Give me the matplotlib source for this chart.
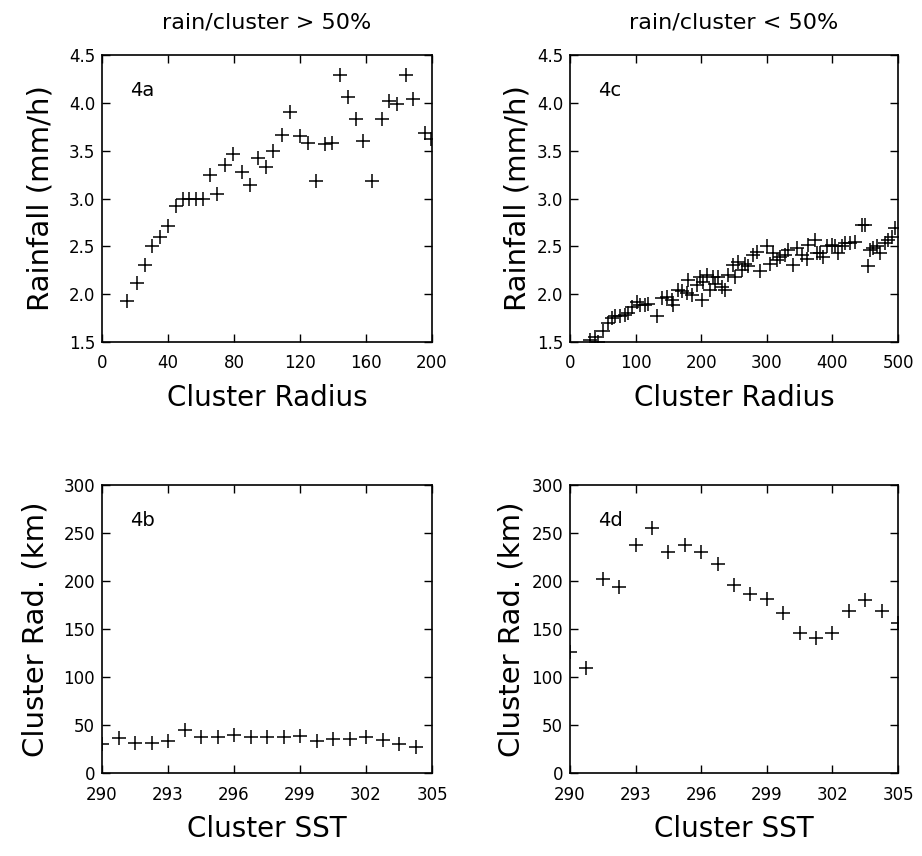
# four panel rainfall / cluster radius / SST scatter plots
import matplotlib
matplotlib.use("Agg")
import matplotlib.pyplot as plt
import matplotlib.ticker as ticker

#================ DATA =========================================================

# ---- 4a : rain/cluster > 50%, rainfall v cluster radius ----------------------
rad_a  = [15, 21, 26, 30, 35, 40, 45, 49, 53, 57, 61, 65.5, 69.5, 74.5, 79.5,
          85, 89.7, 94.3, 99.2, 103.8, 108.9, 113.9, 120, 125, 129.7, 135.2,
          139.2, 144.2, 148.9, 153.7, 158.4, 163.4, 169.5, 174.1, 178.6, 184,
          188.7, 196, 199.5]
rain_a = [1.93, 2.12, 2.30, 2.50, 2.60, 2.71, 2.92, 2.99, 3.00, 2.99, 3.00,
          3.25, 3.05, 3.35, 3.46, 3.28, 3.14, 3.42, 3.33, 3.50, 3.66, 3.90,
          3.65, 3.58, 3.18, 3.57, 3.58, 4.29, 4.06, 3.83, 3.60, 3.18, 3.83,
          4.02, 3.99, 4.29, 4.04, 3.68, 3.62]

# ---- 4c : rain/cluster < 50%, rainfall v cluster radius ----------------------
rad_c  = [30.5, 38.1, 43.2, 50.8, 58.5, 63.5, 68.6, 76.3, 83.9, 89, 94, 101.7,
          106.7, 114.4, 119.4, 132.1, 139.8, 147.4, 155, 157.5, 165.2, 170.3,
          177.9, 180.4, 185.5, 193.1, 198.2, 200.5, 203.3, 208.4, 213.4, 218.5,
          221.1, 226.1, 231.2, 236.3, 241.4, 249, 251.6, 256.6, 261.7, 266.8,
          271.9, 279.5, 284.6, 289.7, 299.8, 304.9, 310, 315, 320.1, 327.8,
          332.9, 340.5, 345.6, 353.2, 360.8, 363.3, 373.5, 376, 381.1, 386.2,
          391.3, 398.9, 404, 409.1, 414.2, 419.2, 426.9, 434.5, 444.6, 449.7,
          454.8, 457.3, 462.4, 467.5, 472.6, 480.2, 485.3, 490.4, 495.5]
rain_c = [1.52, 1.55, 1.50, 1.61, 1.70, 1.75, 1.77, 1.77, 1.78, 1.80, 1.87,
          1.92, 1.89, 1.89, 1.90, 1.77, 1.96, 1.97, 1.94, 1.89, 2.04, 2.03,
          2.01, 2.15, 1.99, 2.10, 2.18, 1.94, 2.13, 2.20, 2.04, 2.18, 2.11,
          2.18, 2.08, 2.04, 2.20, 2.30, 2.18, 2.34, 2.25, 2.32, 2.29, 2.41,
          2.44, 2.24, 2.50, 2.32, 2.43, 2.36, 2.39, 2.41, 2.46, 2.30, 2.48,
          2.41, 2.37, 2.51, 2.57, 2.43, 2.43, 2.39, 2.50, 2.51, 2.50, 2.43,
          2.50, 2.53, 2.53, 2.55, 2.72, 2.72, 2.29, 2.46, 2.48, 2.50, 2.43,
          2.53, 2.57, 2.60, 2.69]

# ---- 4b / 4d : cluster radius v cluster SST ----------------------------------
sst    = [290.0, 290.75, 291.5, 292.25, 293.0, 293.75, 294.5, 295.25, 296.0,
          296.75, 297.5, 298.25, 299.0, 299.75, 300.5, 301.25, 302.0, 302.75,
          303.5, 304.25]
crad_b = [30, 36.8, 30.9, 30.9, 33.3, 44.9, 37.5, 37.5, 39.6, 37.5, 37.5,
          37.5, 38.6, 33.3, 35.1, 35.8, 37.5, 34.4, 29.8, 27.0]
sst_d  = sst + [305.0]
crad_d = [126, 109.8, 201.8, 193.7, 237.5, 255.1, 230.5, 237.5, 229.8, 217.5,
          195.4, 186.0, 181.4, 166.7, 145.6, 140.4, 145.6, 168.4, 180.0, 168.4,
          156]

# ---- text ---------------------------------------------------------------------
titles   = ["rain/cluster > 50%", "rain/cluster < 50%"]
rain_lab = "Rainfall (mm/h)"
rad_lab  = "Cluster Rad. (km)"

#================ PLOTTING =====================================================

plt.rcParams['font.weight'] = 'light'

fig = plt.figure(figsize=(9.22, 8.56), dpi=100)

W, H = 922.0, 856.0

def panel(left, top, right, bottom):
	return fig.add_axes([left/W, 1 - bottom/H, (right-left)/W, (bottom-top)/H])

def style(ax, tag):
	ax.tick_params(direction='in', top=True, right=True, length=6, width=1,
				   labelsize=12)
	ax.tick_params(axis='x', pad=9)
	ax.tick_params(axis='y', pad=5)
	for lab in ax.get_xticklabels() + ax.get_yticklabels():
		lab.set_fontweight('normal')
	for s in ax.spines.values():
		s.set_linewidth(1.2)
	ax.text(0.085, 0.875, tag, transform=ax.transAxes, fontsize=14,
			ha='left', va='center', fontweight='normal')

mk = dict(ls='none', marker='+', ms=10, mew=1.1, color='black')

# 4a
ax = panel(102, 55, 432, 342)
ax.plot(rad_a, rain_a, **mk)
ax.set_xlim(0, 200)
ax.set_ylim(1.5, 4.5)
ax.set_xticks([0, 40, 80, 120, 160, 200])
ax.set_yticks([1.5, 2.0, 2.5, 3.0, 3.5, 4.0, 4.5])
ax.yaxis.set_major_formatter(ticker.FormatStrFormatter('%.1f'))
ax.set_xlabel("Cluster Radius", fontsize=20, labelpad=8)
ax.set_ylabel(rain_lab, fontsize=21, labelpad=10)
ax.set_title(titles[0], fontsize=16, pad=19)
style(ax, "4a")

# 4c
ax = panel(570, 55, 898, 342)
ax.plot(rad_c, rain_c, **mk)
ax.set_xlim(0, 500)
ax.set_ylim(1.5, 4.5)
ax.set_xticks([0, 100, 200, 300, 400, 500])
ax.set_yticks([1.5, 2.0, 2.5, 3.0, 3.5, 4.0, 4.5])
ax.yaxis.set_major_formatter(ticker.FormatStrFormatter('%.1f'))
ax.set_xlabel("Cluster Radius", fontsize=20, labelpad=8)
ax.set_ylabel(rain_lab, fontsize=21, labelpad=4)
ax.set_title(titles[1], fontsize=16, pad=19)
style(ax, "4c")

# 4b
ax = panel(102, 485, 432, 773)
ax.plot(sst, crad_b, **mk)
ax.set_xlim(290, 305)
ax.set_ylim(0, 300)
ax.set_xticks([290, 293, 296, 299, 302, 305])
ax.set_yticks([0, 50, 100, 150, 200, 250, 300])
ax.set_xlabel("Cluster SST", fontsize=20, labelpad=8)
ax.set_ylabel(rad_lab, fontsize=21, labelpad=10)
style(ax, "4b")

# 4d
ax = panel(570, 485, 898, 773)
ax.plot(sst_d, crad_d, **mk)
ax.set_xlim(290, 305)
ax.set_ylim(0, 300)
ax.set_xticks([290, 293, 296, 299, 302, 305])
ax.set_yticks([0, 50, 100, 150, 200, 250, 300])
ax.set_xlabel("Cluster SST", fontsize=20, labelpad=8)
ax.set_ylabel(rad_lab, fontsize=21, labelpad=4)
style(ax, "4d")

plt.savefig("out.png", dpi=100)
